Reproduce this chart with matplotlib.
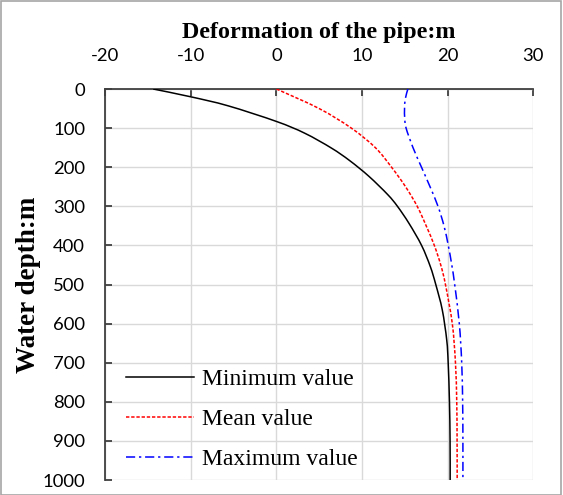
import matplotlib
matplotlib.use("Agg")
import numpy as np
import matplotlib.pyplot as plt
from matplotlib.patches import Rectangle, PathPatch
from matplotlib.path import Path
from matplotlib.lines import Line2D

plt.rcParams["axes.unicode_minus"] = False

# Pipe deformation (m) against water depth (m) for the three cases
min_depth = [0, 20, 43, 83, 113, 151, 183, 223, 270, 300, 344, 400, 454, 500, 565, 642,
             701, 800, 900, 1000]
min_value = [-14.4, -10.0, -5.65, 0.0, 3.3, 6.42, 8.55, 10.79, 13.0, 14.14, 15.5, 16.96,
             17.98, 18.62, 19.38, 19.9, 20.07, 20.22, 20.29, 20.3]

mean_depth = [0, 50, 100, 150, 200, 250, 300, 350, 400, 450, 500, 600, 700, 800, 900, 1000]
mean_value = [0.0, 4.99, 8.75, 11.56, 13.45, 15.09, 16.45, 17.5, 18.45, 19.2, 19.75,
              20.55, 20.92, 21.07, 21.11, 21.12]

max_depth = [0, 25, 50, 75, 100, 150, 200, 250, 300, 350, 400, 450, 500, 600, 700, 800,
             900, 1000]
max_value = [15.36, 15.06, 14.97, 14.99, 15.15, 15.96, 16.95, 17.95, 18.88, 19.58, 20.08,
             20.49, 20.83, 21.37, 21.65, 21.76, 21.79, 21.79]

series_labels = ["Minimum value", "Mean value", "Maximum value"]
x_ticks = [-20, -10, 0, 10, 20, 30]
y_ticks = [0, 100, 200, 300, 400, 500, 600, 700, 800, 900, 1000]


def smoothed_path(xs, ys):
    """Cubic Bezier path through every data point (smoothed scatter line)."""
    pts = np.column_stack([xs, ys]).astype(float)
    verts = [pts[0]]
    codes = [Path.MOVETO]
    n = len(pts)
    for i in range(n - 1):
        p0 = pts[i - 1] if i > 0 else pts[i]
        p1 = pts[i]
        p2 = pts[i + 1]
        p3 = pts[i + 2] if i + 2 < n else pts[i + 1]
        verts += [p1 + (p2 - p0) / 6.0, p2 - (p3 - p1) / 6.0, p2]
        codes += [Path.CURVE4] * 3
    return Path(verts, codes)


fig = plt.figure(figsize=(5.63, 4.95), dpi=100)
ax = fig.add_axes([0.187, 0.0303, 0.7600, 0.7899])

styles = [
    dict(color="black", lw=1.1, ls="-"),
    dict(color="red", lw=1.1, ls=(0, (2.2, 1.2))),
    dict(color="blue", lw=1.1, ls=(0, (6, 2.5, 1.5, 2.5))),
]
series = [(min_value, min_depth), (mean_value, mean_depth), (max_value, max_depth)]

handles = []
for (xs, ys), st, lab in zip(series, styles, series_labels):
    ax.add_patch(PathPatch(smoothed_path(xs, ys), fill=False, edgecolor=st["color"],
                           lw=st["lw"], linestyle=st["ls"], zorder=3))
    handles.append(Line2D([], [], color=st["color"], lw=st["lw"], linestyle=st["ls"],
                          label=lab))

ax.set_xlim(-20, 30)
ax.set_ylim(1000, 0)
ax.set_xticks(x_ticks)
ax.set_yticks(y_ticks)
ax.xaxis.tick_top()
ax.xaxis.set_label_position("top")

ax.grid(True, color="#d9d9d9", lw=1.0)
ax.set_axisbelow(True)
for side in ("right", "bottom"):
    ax.spines[side].set_visible(False)
for side in ("left", "top"):
    ax.spines[side].set_color("#404040")
    ax.spines[side].set_linewidth(1.3)

ax.tick_params(axis="both", direction="in", length=5, width=1.3, color="#404040",
               labelsize=13.3)
ax.tick_params(axis="x", pad=18)
ax.tick_params(axis="y", pad=14.5)
for lab in ax.get_xticklabels() + ax.get_yticklabels():
    lab.set_family("Lato")

ax.set_xlabel("Deformation of the pipe:m", family="Liberation Serif", weight="bold",
              fontsize=17.3, labelpad=7)
ax.set_ylabel("Water depth:m", family="Liberation Serif", weight="bold",
              fontsize=19.5, labelpad=1)

ax.legend(handles=handles, loc="lower left", frameon=False,
          prop={"family": "Liberation Serif", "size": 17},
          handlelength=2.85, handletextpad=0.35, labelspacing=0.78,
          borderpad=0, borderaxespad=0, bbox_to_anchor=(0.049, 0.025))

fig.patches.append(Rectangle((0.001, 0.001), 0.996, 0.996, transform=fig.transFigure,
                             fill=False, edgecolor="#a6a6a6", lw=1.2))

fig.savefig("out.png", dpi=100)
